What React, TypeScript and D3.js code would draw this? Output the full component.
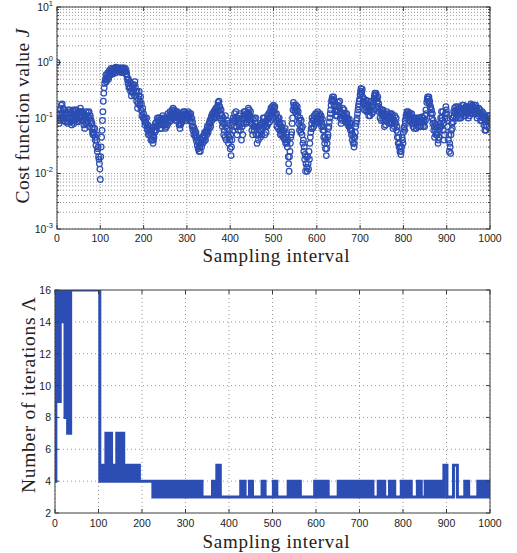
import React from 'react';
import * as d3 from 'd3';

// Cost function value J at even sampling intervals: [sampling interval, J]
const costSamples: [number, number][] = [
  [0, 1.0], [2, 0.09], [4, 0.1], [6, 0.12], [8, 0.14], [10, 0.17], [12, 0.18], [14, 0.15], [16, 0.12], [18, 0.1],
  [20, 0.085], [22, 0.1], [24, 0.12], [26, 0.14], [28, 0.12], [30, 0.1], [32, 0.085], [34, 0.075], [36, 0.09], [38, 0.11],
  [40, 0.13], [42, 0.14], [44, 0.12], [46, 0.1], [48, 0.085],
  [50, 0.1], [52, 0.13], [54, 0.15], [56, 0.13], [58, 0.11], [60, 0.09], [62, 0.075], [64, 0.065], [66, 0.08], [68, 0.095],
  [70, 0.11], [72, 0.125], [74, 0.13], [76, 0.1], [78, 0.08], [80, 0.065], [82, 0.055], [84, 0.065], [86, 0.05], [88, 0.04],
  [90, 0.032], [92, 0.04], [94, 0.028], [96, 0.02], [98, 0.015],
  [100, 0.0078], [102, 0.03], [104, 0.06], [106, 0.13], [108, 0.28],
  [110, 0.42], [112, 0.5], [114, 0.45], [116, 0.55], [118, 0.6], [120, 0.55], [122, 0.65], [124, 0.7],
  [126, 0.62], [128, 0.72], [130, 0.78], [132, 0.7], [134, 0.75], [136, 0.82], [138, 0.78], [140, 0.7], [142, 0.76],
  [144, 0.8], [146, 0.72], [148, 0.66],
  [150, 0.72], [152, 0.8], [154, 0.75], [156, 0.68], [158, 0.78], [160, 0.7], [162, 0.55], [164, 0.42], [166, 0.35],
  [168, 0.45], [170, 0.3], [172, 0.25], [174, 0.35], [176, 0.28], [178, 0.4], [180, 0.45], [182, 0.3], [184, 0.2],
  [186, 0.15], [188, 0.22], [190, 0.3], [192, 0.2], [194, 0.14], [196, 0.11], [198, 0.15],
  [200, 0.12], [202, 0.09], [204, 0.1], [206, 0.08], [208, 0.065], [210, 0.075], [212, 0.06], [214, 0.05], [216, 0.065],
  [218, 0.05], [220, 0.04], [222, 0.035], [224, 0.045], [226, 0.055], [228, 0.07], [230, 0.085], [232, 0.1], [234, 0.09],
  [236, 0.075], [238, 0.065], [240, 0.08], [242, 0.095], [244, 0.11], [246, 0.09], [248, 0.075],
  [250, 0.065], [252, 0.08], [254, 0.1], [256, 0.12], [258, 0.1], [260, 0.085], [262, 0.1], [264, 0.12], [266, 0.14],
  [268, 0.15], [270, 0.12], [272, 0.1], [274, 0.09], [276, 0.11], [278, 0.13], [280, 0.1], [282, 0.075], [284, 0.065],
  [286, 0.08], [288, 0.1], [290, 0.12], [292, 0.13], [294, 0.11], [296, 0.095], [298, 0.11],
  [300, 0.12], [302, 0.11], [304, 0.1], [306, 0.12], [308, 0.1], [310, 0.085], [312, 0.07], [314, 0.06], [316, 0.05],
  [318, 0.06], [320, 0.045], [322, 0.038], [324, 0.032], [326, 0.028], [328, 0.025], [330, 0.03], [332, 0.035], [334, 0.03],
  [336, 0.04], [338, 0.045], [340, 0.038], [342, 0.045], [344, 0.055], [346, 0.05], [348, 0.06],
  [350, 0.07], [352, 0.065], [354, 0.08], [356, 0.1], [358, 0.09], [360, 0.11], [362, 0.13], [364, 0.12], [366, 0.1],
  [368, 0.13], [370, 0.16], [372, 0.19], [374, 0.2], [376, 0.16], [378, 0.12], [380, 0.09], [382, 0.07], [384, 0.1],
  [386, 0.06], [388, 0.045], [390, 0.07], [392, 0.09], [394, 0.05], [396, 0.035], [398, 0.06],
  [400, 0.028], [402, 0.021], [404, 0.04], [406, 0.06], [408, 0.09], [410, 0.12], [412, 0.1], [414, 0.07], [416, 0.05],
  [418, 0.08], [420, 0.11], [422, 0.09], [424, 0.06], [426, 0.04], [428, 0.07], [430, 0.1], [432, 0.13], [434, 0.11],
  [436, 0.08], [438, 0.1], [440, 0.12], [442, 0.15], [444, 0.14], [446, 0.11], [448, 0.08],
  [450, 0.06], [452, 0.05], [454, 0.07], [456, 0.1], [458, 0.08], [460, 0.05], [462, 0.035], [464, 0.05], [466, 0.07],
  [468, 0.06], [470, 0.045], [472, 0.06], [474, 0.08], [476, 0.1], [478, 0.07], [480, 0.05], [482, 0.07], [484, 0.09],
  [486, 0.11], [488, 0.08], [490, 0.1], [492, 0.13], [494, 0.15], [496, 0.12], [498, 0.14],
  [500, 0.17], [502, 0.15], [504, 0.12], [506, 0.09], [508, 0.07], [510, 0.1], [512, 0.08], [514, 0.06], [516, 0.05],
  [518, 0.07], [520, 0.06], [522, 0.045], [524, 0.06], [526, 0.04], [528, 0.035], [530, 0.05], [532, 0.03], [534, 0.02],
  [536, 0.011], [538, 0.025], [540, 0.045], [542, 0.056], [544, 0.1], [546, 0.19], [548, 0.16],
  [550, 0.13], [552, 0.17], [554, 0.14], [556, 0.11], [558, 0.08], [560, 0.06], [562, 0.07], [564, 0.09], [566, 0.05],
  [568, 0.035], [570, 0.025], [572, 0.018], [574, 0.011], [576, 0.02], [578, 0.011], [580, 0.015], [582, 0.025],
  [584, 0.035], [586, 0.055], [588, 0.08], [590, 0.065], [592, 0.09], [594, 0.11], [596, 0.08], [598, 0.1],
  [600, 0.12], [602, 0.13], [604, 0.1], [606, 0.08], [608, 0.1], [610, 0.11], [612, 0.08], [614, 0.06], [616, 0.045],
  [618, 0.035], [620, 0.028], [622, 0.021], [624, 0.035], [626, 0.05], [628, 0.07], [630, 0.1], [632, 0.14],
  [634, 0.2], [636, 0.24], [638, 0.21], [640, 0.17], [642, 0.14], [644, 0.11], [646, 0.14], [648, 0.17],
  [650, 0.19], [652, 0.15], [654, 0.1], [656, 0.08], [658, 0.12], [660, 0.15], [662, 0.12], [664, 0.1], [666, 0.12],
  [668, 0.1], [670, 0.08], [672, 0.09], [674, 0.07], [676, 0.08], [678, 0.06], [680, 0.05], [682, 0.04], [684, 0.035],
  [686, 0.03], [688, 0.045], [690, 0.07], [692, 0.09], [694, 0.12], [696, 0.16], [698, 0.2],
  [700, 0.26], [702, 0.34], [704, 0.3], [706, 0.24], [708, 0.18], [710, 0.14], [712, 0.17], [714, 0.21], [716, 0.17],
  [718, 0.13], [720, 0.11], [722, 0.14], [724, 0.17], [726, 0.14], [728, 0.12], [730, 0.16], [732, 0.22], [734, 0.28],
  [736, 0.26], [738, 0.23], [740, 0.2], [742, 0.16], [744, 0.13], [746, 0.1], [748, 0.12],
  [750, 0.14], [752, 0.11], [754, 0.09], [756, 0.07], [758, 0.09], [760, 0.11], [762, 0.13], [764, 0.1], [766, 0.08],
  [768, 0.1], [770, 0.12], [772, 0.1], [774, 0.08], [776, 0.065], [778, 0.09], [780, 0.11], [782, 0.08], [784, 0.06],
  [786, 0.045], [788, 0.035], [790, 0.03], [792, 0.025], [794, 0.022], [796, 0.03], [798, 0.04],
  [800, 0.055], [802, 0.07], [804, 0.09], [806, 0.11], [808, 0.13], [810, 0.11], [812, 0.09], [814, 0.11], [816, 0.12],
  [818, 0.1], [820, 0.08], [822, 0.07], [824, 0.09], [826, 0.1], [828, 0.08], [830, 0.065], [832, 0.08], [834, 0.1],
  [836, 0.085], [838, 0.07], [840, 0.09], [842, 0.105], [844, 0.085], [846, 0.07], [848, 0.085],
  [850, 0.11], [852, 0.14], [854, 0.19], [856, 0.24], [858, 0.22], [860, 0.18], [862, 0.15], [864, 0.12],
  [866, 0.1], [868, 0.08], [870, 0.06], [872, 0.045], [874, 0.06], [876, 0.075], [878, 0.05], [880, 0.035], [882, 0.045],
  [884, 0.07], [886, 0.1], [888, 0.13], [890, 0.09], [892, 0.06], [894, 0.04], [896, 0.1], [898, 0.16],
  [900, 0.12], [902, 0.07], [904, 0.04], [906, 0.025], [908, 0.03], [910, 0.05], [912, 0.08], [914, 0.1], [916, 0.13],
  [918, 0.15], [920, 0.12], [922, 0.1], [924, 0.13], [926, 0.16], [928, 0.13], [930, 0.1], [932, 0.12], [934, 0.15],
  [936, 0.17], [938, 0.14], [940, 0.11], [942, 0.13], [944, 0.16], [946, 0.14], [948, 0.12],
  [950, 0.1], [952, 0.13], [954, 0.16], [956, 0.18], [958, 0.15], [960, 0.12], [962, 0.14], [964, 0.17], [966, 0.15],
  [968, 0.12], [970, 0.1], [972, 0.13], [974, 0.15], [976, 0.12], [978, 0.09], [980, 0.11], [982, 0.13], [984, 0.1],
  [986, 0.075], [988, 0.06], [990, 0.075], [992, 0.09], [994, 0.11], [996, 0.1], [998, 0.085], [1000, 0.11],
];

// Cost function value J at odd sampling intervals
const costSamplesOdd: [number, number][] = [
  [1, 0.12], [3, 0.14], [5, 0.08], [7, 0.09], [9, 0.1], [11, 0.12], [13, 0.1], [15, 0.09], [17, 0.14], [19, 0.13],
  [21, 0.12], [23, 0.09], [25, 0.08], [27, 0.1], [29, 0.14], [31, 0.13], [33, 0.12], [35, 0.1], [37, 0.14], [39, 0.08],
  [41, 0.09], [43, 0.1], [45, 0.14], [47, 0.12], [49, 0.13], [51, 0.09], [53, 0.1], [55, 0.11], [57, 0.09], [59, 0.13],
  [61, 0.12], [63, 0.1], [65, 0.11], [67, 0.13], [69, 0.08], [71, 0.085], [73, 0.1], [75, 0.07], [77, 0.11], [79, 0.09],
  [81, 0.08], [83, 0.05], [85, 0.055], [87, 0.065], [89, 0.045], [91, 0.05], [93, 0.025], [95, 0.03], [97, 0.018], [99, 0.012],
  [101, 0.02], [103, 0.045], [105, 0.09], [107, 0.2], [109, 0.35],
  [111, 0.48], [113, 0.6], [115, 0.5], [117, 0.65], [119, 0.5], [121, 0.72], [123, 0.6], [125, 0.78], [127, 0.68], [129, 0.62],
  [131, 0.7], [133, 0.8], [135, 0.65], [137, 0.72], [139, 0.8], [141, 0.78], [143, 0.68], [145, 0.74], [147, 0.8], [149, 0.7],
  [151, 0.76], [153, 0.66], [155, 0.8], [157, 0.72], [159, 0.62],
  [161, 0.62], [163, 0.48], [165, 0.5], [167, 0.38], [169, 0.35], [171, 0.42], [173, 0.3], [175, 0.4], [177, 0.33], [179, 0.25],
  [181, 0.36], [183, 0.25], [185, 0.3], [187, 0.18], [189, 0.25], [191, 0.17], [193, 0.24], [195, 0.18], [197, 0.13], [199, 0.1],
  [201, 0.1], [203, 0.075], [205, 0.085], [207, 0.1], [209, 0.06], [211, 0.05], [213, 0.07], [215, 0.055], [217, 0.04], [219, 0.06],
  [221, 0.048], [223, 0.04], [225, 0.06], [227, 0.08], [229, 0.06], [231, 0.07], [233, 0.075], [235, 0.1], [237, 0.085], [239, 0.1],
  [241, 0.065], [243, 0.075], [245, 0.08], [247, 0.1], [249, 0.095],
  [251, 0.1], [253, 0.07], [255, 0.075], [257, 0.09], [259, 0.11], [261, 0.13], [263, 0.09], [265, 0.11], [267, 0.1], [269, 0.13],
  [271, 0.14], [273, 0.12], [275, 0.13], [277, 0.09], [279, 0.11], [281, 0.12], [283, 0.09], [285, 0.075], [287, 0.095], [289, 0.085],
  [291, 0.1], [293, 0.11], [295, 0.13], [297, 0.12], [299, 0.09],
  [301, 0.1], [303, 0.13], [305, 0.11], [307, 0.09], [309, 0.12], [311, 0.1], [313, 0.085], [315, 0.07], [317, 0.065], [319, 0.05],
  [321, 0.055], [323, 0.045], [325, 0.04], [327, 0.035], [329, 0.03], [331, 0.025], [333, 0.04], [335, 0.045], [337, 0.035], [339, 0.05],
  [341, 0.055], [343, 0.04], [345, 0.06], [347, 0.07], [349, 0.055],
  [351, 0.08], [353, 0.09], [355, 0.07], [357, 0.11], [359, 0.12], [361, 0.1], [363, 0.1], [365, 0.14], [367, 0.15], [369, 0.12],
  [371, 0.14], [373, 0.17], [375, 0.14], [377, 0.1], [379, 0.14], [381, 0.11], [383, 0.08], [385, 0.05], [387, 0.08], [389, 0.11],
  [391, 0.04], [393, 0.065], [395, 0.08], [397, 0.045], [399, 0.04],
  [401, 0.05], [403, 0.03], [405, 0.08], [407, 0.1], [409, 0.07], [411, 0.09], [413, 0.13], [415, 0.09], [417, 0.1], [419, 0.06],
  [421, 0.07], [423, 0.12], [425, 0.08], [427, 0.1], [429, 0.05], [431, 0.08], [433, 0.095], [435, 0.13], [437, 0.12], [439, 0.085],
  [441, 0.1], [443, 0.12], [445, 0.09], [447, 0.13], [449, 0.1],
  [451, 0.08], [453, 0.095], [455, 0.06], [457, 0.07], [459, 0.1], [461, 0.065], [463, 0.07], [465, 0.04], [467, 0.05], [469, 0.08],
  [471, 0.075], [473, 0.05], [475, 0.065], [477, 0.085], [479, 0.1], [481, 0.08], [483, 0.055], [485, 0.07], [487, 0.095], [489, 0.12],
  [491, 0.085], [493, 0.11], [495, 0.12], [497, 0.16], [499, 0.13],
  [501, 0.13], [503, 0.16], [505, 0.1], [507, 0.12], [509, 0.09], [511, 0.065], [513, 0.1], [515, 0.08], [517, 0.06], [519, 0.05],
  [521, 0.08], [523, 0.055], [525, 0.045], [527, 0.065], [529, 0.045], [531, 0.035], [533, 0.04], [535, 0.015], [537, 0.02], [539, 0.035],
  [541, 0.05], [543, 0.08], [545, 0.14], [547, 0.17], [549, 0.14],
  [551, 0.15], [553, 0.12], [555, 0.16], [557, 0.13], [559, 0.09], [561, 0.1], [563, 0.055], [565, 0.065], [567, 0.07], [569, 0.04],
  [571, 0.03], [573, 0.022], [575, 0.015], [577, 0.013], [579, 0.02], [581, 0.012], [583, 0.018], [585, 0.045], [587, 0.065], [589, 0.1],
  [591, 0.09], [593, 0.07], [595, 0.095], [597, 0.12], [599, 0.085],
  [601, 0.1], [603, 0.085], [605, 0.11], [607, 0.12], [609, 0.09], [611, 0.07], [613, 0.095], [615, 0.07], [617, 0.06], [619, 0.045],
  [621, 0.04], [623, 0.028], [625, 0.045], [627, 0.065], [629, 0.085], [631, 0.12], [633, 0.17], [635, 0.22], [637, 0.2], [639, 0.24],
  [641, 0.2], [643, 0.16], [645, 0.13], [647, 0.11], [649, 0.14],
  [651, 0.16], [653, 0.2], [655, 0.13], [657, 0.1], [659, 0.09], [661, 0.11], [663, 0.14], [665, 0.09], [667, 0.1], [669, 0.12],
  [671, 0.1], [673, 0.075], [675, 0.095], [677, 0.065], [679, 0.08], [681, 0.06], [683, 0.05], [685, 0.045], [687, 0.035], [689, 0.055],
  [691, 0.08], [693, 0.1], [695, 0.14], [697, 0.18], [699, 0.22],
  [701, 0.3], [703, 0.28], [705, 0.33], [707, 0.2], [709, 0.22], [711, 0.19], [713, 0.14], [715, 0.13], [717, 0.2], [719, 0.16],
  [721, 0.15], [723, 0.11], [725, 0.2], [727, 0.16], [729, 0.13], [731, 0.19], [733, 0.25], [735, 0.22], [737, 0.28], [739, 0.2],
  [741, 0.24], [743, 0.18], [745, 0.15], [747, 0.14], [749, 0.09],
  [751, 0.12], [753, 0.14], [755, 0.11], [757, 0.12], [759, 0.075], [761, 0.09], [763, 0.1], [765, 0.12], [767, 0.11], [769, 0.085],
  [771, 0.08], [773, 0.12], [775, 0.11], [777, 0.09], [779, 0.07], [781, 0.085], [783, 0.1], [785, 0.07], [787, 0.055], [789, 0.045],
  [791, 0.035], [793, 0.03], [795, 0.025], [797, 0.045], [799, 0.035],
  [801, 0.065], [803, 0.06], [805, 0.08], [807, 0.1], [809, 0.12], [811, 0.13], [813, 0.12], [815, 0.09], [817, 0.1], [819, 0.12],
  [821, 0.1], [823, 0.08], [825, 0.065], [827, 0.09], [829, 0.1], [831, 0.095], [833, 0.07], [835, 0.085], [837, 0.1], [839, 0.09],
  [841, 0.07], [843, 0.085], [845, 0.1], [847, 0.09], [849, 0.07],
  [851, 0.09], [853, 0.12], [855, 0.22], [857, 0.2], [859, 0.24], [861, 0.2], [863, 0.16], [865, 0.14], [867, 0.12], [869, 0.09],
  [871, 0.07], [873, 0.08], [875, 0.05], [877, 0.055], [879, 0.07], [881, 0.04], [883, 0.06], [885, 0.08], [887, 0.07], [889, 0.1],
  [891, 0.13], [893, 0.08], [895, 0.05], [897, 0.12], [899, 0.14],
  [901, 0.1], [903, 0.09], [905, 0.05], [907, 0.035], [909, 0.023], [911, 0.06], [913, 0.065], [915, 0.085], [917, 0.11], [919, 0.13],
  [921, 0.16], [923, 0.14], [925, 0.11], [927, 0.1], [929, 0.15], [931, 0.13], [933, 0.1], [935, 0.12], [937, 0.14], [939, 0.17],
  [941, 0.15], [943, 0.11], [945, 0.12], [947, 0.16], [949, 0.14],
  [951, 0.15], [953, 0.11], [955, 0.12], [957, 0.14], [959, 0.17], [961, 0.16], [963, 0.13], [965, 0.12], [967, 0.17], [969, 0.15],
  [971, 0.13], [973, 0.11], [975, 0.12], [977, 0.14], [979, 0.12], [981, 0.09], [983, 0.1], [985, 0.12], [987, 0.1], [989, 0.085],
  [991, 0.06], [993, 0.07], [995, 0.085], [997, 0.11], [999, 0.095],
];

// Number of iterations: [start sampling interval, value held until the next start]
const iterationRuns: [number, number][] = [
  [0, 4], [2, 16], [3, 9], [4, 16], [5, 9], [6, 16], [7, 9], [8, 16], [9, 9], [10, 16], [11, 9], [12, 16],
  [13, 14], [15, 16], [17, 14], [18, 16], [19, 14], [20, 16], [21, 14], [22, 16], [23, 8], [24, 16], [25, 8],
  [26, 16], [27, 8], [28, 16], [29, 7], [30, 16], [31, 8], [32, 16], [33, 7], [34, 16], [35, 7], [36, 16],
  [103, 4], [104, 5], [105, 4], [107, 5], [108, 4], [110, 5], [111, 4], [113, 5], [114, 4],
  [117, 7], [118, 4], [119, 7], [121, 4], [122, 7], [124, 4], [125, 7], [127, 4], [128, 7], [130, 4],
  [131, 5], [132, 4], [134, 5], [135, 4], [137, 5], [138, 4], [140, 5], [141, 4],
  [142, 7], [143, 4], [145, 7], [146, 4], [148, 7], [149, 4], [151, 7], [152, 4], [154, 7], [155, 4], [157, 7], [158, 4],
  [159, 5], [160, 4], [162, 5], [163, 4], [164, 5], [165, 4],
  [167, 5], [168, 4], [170, 5], [171, 4], [173, 5], [174, 4], [176, 5], [177, 4], [179, 5], [180, 4],
  [185, 5], [187, 4], [189, 5], [191, 4], [192, 5], [194, 4],
  [225, 3], [226, 4], [228, 3], [229, 4], [231, 3], [232, 4], [234, 3], [236, 4], [237, 3], [239, 4], [240, 3],
  [242, 4], [244, 3], [245, 4], [247, 3], [248, 4], [250, 3], [252, 4], [253, 3], [255, 4], [256, 3], [258, 4],
  [260, 3], [261, 4], [263, 3], [264, 4], [266, 3], [268, 4], [269, 3], [271, 4], [272, 3], [274, 4], [276, 3],
  [277, 4], [279, 3],
  [284, 4], [285, 3], [287, 4], [288, 3], [290, 4], [292, 3], [293, 4], [295, 3], [296, 4], [298, 3], [300, 4],
  [301, 3], [303, 4], [304, 3], [306, 4], [308, 3], [309, 4], [311, 3], [312, 4], [314, 3], [316, 4], [317, 3],
  [320, 4], [321, 3], [323, 4], [324, 3], [326, 4], [328, 3], [329, 4], [331, 3], [332, 4], [334, 3], [336, 4], [338, 3],
  [362, 4], [363, 3], [365, 4], [366, 3], [368, 4], [370, 3], [371, 4],
  [372, 5], [373, 3], [375, 5], [376, 4], [378, 5], [380, 3],
  [427, 4], [428, 3], [430, 4], [432, 3], [433, 4], [435, 3], [436, 4], [437, 3],
  [447, 4], [449, 3], [450, 4], [452, 3], [453, 4], [454, 3],
  [476, 4], [478, 3], [479, 4], [481, 3], [482, 4], [483, 3],
  [502, 4], [504, 3], [505, 4], [507, 3], [508, 4], [510, 3],
  [536, 4], [538, 3], [539, 4], [541, 3], [542, 4], [544, 3], [545, 4], [547, 3], [549, 4], [551, 3],
  [553, 4], [555, 3], [556, 4], [558, 3], [559, 4], [561, 3], [562, 4], [564, 3],
  [597, 4], [599, 3], [600, 4], [602, 3], [603, 4], [605, 3], [606, 4], [608, 3], [609, 4], [611, 3],
  [614, 4], [616, 3], [617, 4], [619, 3], [620, 4], [622, 3], [623, 4], [625, 3], [626, 4], [628, 3],
  [651, 4], [653, 3], [654, 4], [656, 3], [657, 4], [659, 3], [660, 4], [662, 3], [663, 4], [665, 3], [666, 4], [667, 3],
  [673, 4], [675, 3], [676, 4], [678, 3], [679, 4], [681, 3], [682, 4], [684, 3], [685, 4], [687, 3],
  [693, 4], [695, 3], [696, 4], [698, 3], [699, 4], [701, 3], [702, 4], [704, 3], [706, 4], [708, 3], [709, 4],
  [711, 3], [712, 4], [714, 3], [716, 4], [718, 3], [719, 4], [721, 3], [722, 4], [724, 3], [725, 4], [727, 3],
  [728, 4], [731, 3],
  [743, 4], [745, 3], [746, 4], [748, 3], [749, 4], [751, 3], [752, 4], [754, 3], [755, 4], [758, 3],
  [769, 4], [771, 3], [772, 4], [774, 3], [775, 4], [777, 3], [778, 4], [781, 3],
  [796, 4], [798, 3], [799, 4], [801, 3], [802, 4], [804, 3], [806, 4], [808, 3], [809, 4], [811, 3], [812, 4],
  [814, 3], [815, 4], [817, 3], [818, 4], [819, 3],
  [833, 4], [835, 3], [836, 4], [838, 3], [839, 4], [842, 3],
  [851, 4], [853, 3], [854, 4], [856, 3], [857, 4], [859, 3], [860, 4], [862, 3], [863, 4], [865, 3], [866, 4],
  [868, 3], [869, 4], [871, 3], [872, 4], [874, 3], [875, 4], [877, 3], [878, 4], [880, 3], [881, 4], [883, 3],
  [884, 4], [886, 3], [887, 4], [888, 3],
  [894, 5], [901, 3], [916, 5], [925, 3],
  [942, 4], [944, 3], [945, 4], [947, 3], [948, 4], [951, 3],
  [972, 4], [974, 3], [975, 4], [977, 3], [978, 4], [980, 3], [982, 4], [984, 3], [985, 4], [987, 3], [988, 4],
  [990, 3], [991, 4], [993, 3], [994, 4], [996, 3], [997, 4], [999, 3], [1000, 3],
];

const xTickValues = [0, 100, 200, 300, 400, 500, 600, 700, 800, 900, 1000];
const costDecades = [-3, -2, -1, 0, 1];
const iterTickValues = [2, 4, 6, 8, 10, 12, 14, 16];

const BLUE = '#2c4db3';
const AXIS = '#3c3c3c';
const GRID = '#9a9a9a';
const TICK_FONT = '"Liberation Sans", Arial, sans-serif';
const LABEL_FONT = '"Liberation Serif", "Times New Roman", serif';

export default function App() {
  const W = 517;
  const H = 553;
  const top = { l: 57, r: 490, t: 7, b: 229 };
  const bot = { l: 55, r: 490, t: 290, b: 513 };

  const xTop = d3.scaleLinear().domain([0, 1000]).range([top.l, top.r]);
  const yTop = d3.scaleLog().domain([1e-3, 10]).range([top.b, top.t]);
  const xBot = d3.scaleLinear().domain([0, 1000]).range([bot.l, bot.r]);
  const yBot = d3.scaleLinear().domain([2, 16]).range([bot.b, bot.t]);

  const allCost = costSamples.concat(costSamplesOdd);

  const logGrid: number[] = [];
  for (let d = -3; d <= 0; d++) {
    for (let m = 1; m <= 9; m++) logGrid.push(m * Math.pow(10, d));
  }
  logGrid.push(10);

  const stepLine = d3
    .line<[number, number]>()
    .x((d) => xBot(d[0]))
    .y((d) => yBot(d[1]))
    .curve(d3.curveStepAfter);

  const tickLen = 4;
  const minorLen = 2;

  return (
    <svg
      width={W}
      height={H}
      style={{ position: 'absolute', left: 0, top: 0, background: '#fff' }}
      xmlns="http://www.w3.org/2000/svg"
    >
      <defs>
        <clipPath id="clipTop">
          <rect x={top.l} y={top.t} width={top.r - top.l} height={top.b - top.t} />
        </clipPath>
        <clipPath id="clipBot">
          <rect x={bot.l} y={bot.t} width={bot.r - bot.l} height={bot.b - bot.t} />
        </clipPath>
      </defs>
      <rect x={0} y={0} width={W} height={H} fill="#fff" />

      {/* ---------- TOP PANEL ---------- */}
      <g>
        {logGrid.map((v, i) => (
          <line
            key={'hg' + i}
            x1={top.l}
            x2={top.r}
            y1={yTop(v)}
            y2={yTop(v)}
            stroke={GRID}
            strokeWidth={1}
            strokeDasharray="1,2"
          />
        ))}
        {xTickValues.map((t) => (
          <line
            key={'vg' + t}
            x1={xTop(t)}
            x2={xTop(t)}
            y1={top.t}
            y2={top.b}
            stroke={GRID}
            strokeWidth={1}
            strokeDasharray="1,2"
          />
        ))}
        <g clipPath="url(#clipTop)">
          {allCost.map(([k, v], i) => (
            <circle
              key={'c' + i}
              cx={xTop(k)}
              cy={yTop(v)}
              r={2.8}
              fill="none"
              stroke={BLUE}
              strokeWidth={1.25}
            />
          ))}
        </g>
        <rect
          x={top.l}
          y={top.t}
          width={top.r - top.l}
          height={top.b - top.t}
          fill="none"
          stroke={AXIS}
          strokeWidth={1}
        />
        {xTickValues.map((t) => (
          <g key={'xt' + t}>
            <line x1={xTop(t)} x2={xTop(t)} y1={top.b} y2={top.b - tickLen} stroke={AXIS} />
            <line x1={xTop(t)} x2={xTop(t)} y1={top.t} y2={top.t + tickLen} stroke={AXIS} />
            <text
              x={xTop(t)}
              y={242}
              textAnchor="middle"
              fontFamily={TICK_FONT}
              fontSize={10.5}
              fill="#222"
            >
              {t}
            </text>
          </g>
        ))}
        {logGrid.map((v, i) => {
          const isMajor = Math.abs(Math.log10(v) - Math.round(Math.log10(v))) < 1e-9;
          const len = isMajor ? tickLen : minorLen;
          return (
            <g key={'yt' + i}>
              <line x1={top.l} x2={top.l + len} y1={yTop(v)} y2={yTop(v)} stroke={AXIS} />
              <line x1={top.r} x2={top.r - len} y1={yTop(v)} y2={yTop(v)} stroke={AXIS} />
            </g>
          );
        })}
        {costDecades.map((e) => (
          <text
            key={'yl' + e}
            x={53}
            y={yTop(Math.pow(10, e)) + 3.5}
            textAnchor="end"
            fontFamily={TICK_FONT}
            fontSize={10.5}
            fill="#222"
          >
            10
            <tspan dy={-5} fontSize={7.5}>
              {e < 0 ? '-' + Math.abs(e) : String(e)}
            </tspan>
          </text>
        ))}
        <text
          x={276}
          y={262}
          textAnchor="middle"
          fontFamily={LABEL_FONT}
          fontSize={19}
          textLength={147}
          lengthAdjust="spacing"
          fill="#222"
        >
          Sampling interval
        </text>
        <text
          transform={`translate(29, 116) rotate(-90)`}
          textAnchor="middle"
          fontFamily={LABEL_FONT}
          fontSize={19.5}
          textLength={175}
          lengthAdjust="spacing"
          fill="#222"
        >
          Cost function value <tspan fontStyle="italic">J</tspan>
        </text>
      </g>

      {/* ---------- BOTTOM PANEL ---------- */}
      <g>
        {iterTickValues
          .filter((t) => t !== 2 && t !== 16)
          .map((t) => (
            <line
              key={'bhg' + t}
              x1={bot.l}
              x2={bot.r}
              y1={yBot(t)}
              y2={yBot(t)}
              stroke={GRID}
              strokeWidth={1}
              strokeDasharray="1,3"
            />
          ))}
        {xTickValues.map((t) => (
          <line
            key={'bvg' + t}
            x1={xBot(t)}
            x2={xBot(t)}
            y1={bot.t}
            y2={bot.b}
            stroke={GRID}
            strokeWidth={1}
            strokeDasharray="1,3"
          />
        ))}
        <g clipPath="url(#clipBot)">
          <path
            d={stepLine(iterationRuns) || ''}
            fill="none"
            stroke={BLUE}
            strokeWidth={3}
            strokeLinejoin="miter"
          />
        </g>
        <rect
          x={bot.l}
          y={bot.t}
          width={bot.r - bot.l}
          height={bot.b - bot.t}
          fill="none"
          stroke={AXIS}
          strokeWidth={1}
        />
        {xTickValues.map((t) => (
          <g key={'bxt' + t}>
            <line x1={xBot(t)} x2={xBot(t)} y1={bot.b} y2={bot.b - tickLen} stroke={AXIS} />
            <line x1={xBot(t)} x2={xBot(t)} y1={bot.t} y2={bot.t + tickLen} stroke={AXIS} />
            <text
              x={xBot(t)}
              y={527}
              textAnchor="middle"
              fontFamily={TICK_FONT}
              fontSize={10.5}
              fill="#222"
            >
              {t}
            </text>
          </g>
        ))}
        {iterTickValues.map((t) => (
          <g key={'byt' + t}>
            <line x1={bot.l} x2={bot.l + tickLen} y1={yBot(t)} y2={yBot(t)} stroke={AXIS} />
            <line x1={bot.r} x2={bot.r - tickLen} y1={yBot(t)} y2={yBot(t)} stroke={AXIS} />
            <text
              x={51}
              y={yBot(t) + 4}
              textAnchor="end"
              fontFamily={TICK_FONT}
              fontSize={10.5}
              fill="#222"
            >
              {t}
            </text>
          </g>
        ))}
        <text
          x={276}
          y={548}
          textAnchor="middle"
          fontFamily={LABEL_FONT}
          fontSize={19}
          textLength={147}
          lengthAdjust="spacing"
          fill="#222"
        >
          Sampling interval
        </text>
        <text
          transform={`translate(35, 395) rotate(-90)`}
          textAnchor="middle"
          fontFamily={LABEL_FONT}
          fontSize={19.5}
          textLength={196}
          lengthAdjust="spacing"
          fill="#222"
        >
          Number of iterations Λ
        </text>
      </g>
    </svg>
  );
}
